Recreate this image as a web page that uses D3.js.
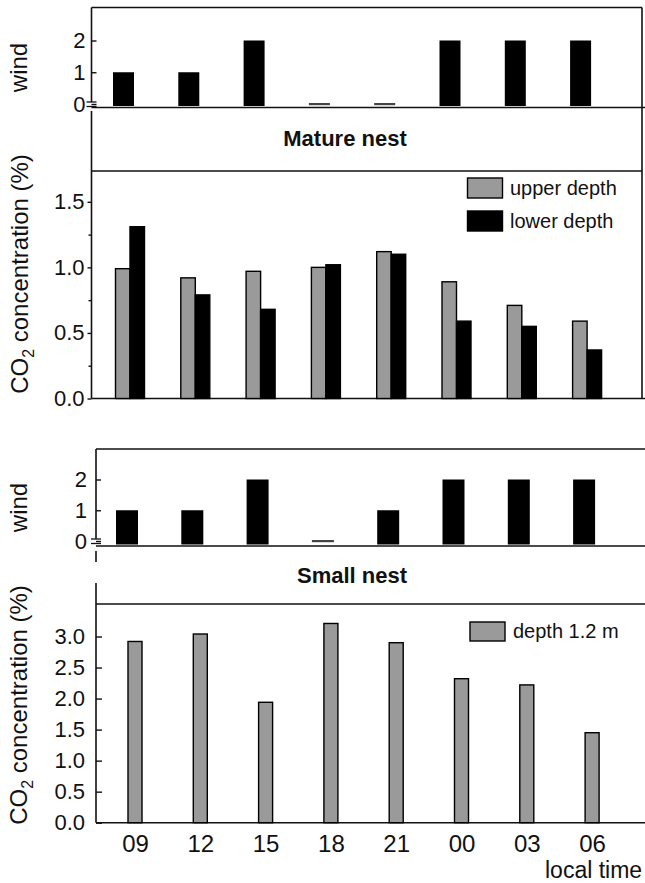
<!DOCTYPE html>
<html>
<head>
<meta charset="utf-8">
<script src="https://cdn.jsdelivr.net/npm/d3@7"></script>
<style>
body { margin: 0; background: #fff; }
svg { display: block; font-family: "Liberation Sans", Arial, sans-serif; }
</style>
</head>
<body>
<div class="container"></div>
<script>
// local time of each measurement
var times = ['09', '12', '15', '18', '21', '00', '03', '06'];

// mature nest
var matureWind = [1, 1, 2, 0, 0, 2, 2, 2];
var matureUpper = [0.99, 0.92, 0.97, 1.00, 1.12, 0.89, 0.71, 0.59];
var matureLower = [1.31, 0.79, 0.68, 1.02, 1.10, 0.59, 0.55, 0.37];

// small nest
var smallWind = [1, 1, 2, 0, 1, 2, 2, 2];
var smallDepth = [2.92, 3.04, 1.94, 3.21, 2.90, 2.32, 2.22, 1.45];

var windTicks = [0, 1, 2];
var matureTicks = [0, 0.5, 1.0, 1.5];
var matureMinor = [0.25, 0.75, 1.25];
var smallTicks = [0, 0.5, 1.0, 1.5, 2.0, 2.5, 3.0];

const WIDTH = 645;
const HEIGHT = 883;
const STEP = 65.3;
const INK = '#111';
const GREY = '#9a9a9a';

var svg = d3.select('.container').append('svg')
    .attr('width', WIDTH)
    .attr('height', HEIGHT);

var line = function (x1, y1, x2, y2, w) {
    svg.append('line')
        .attr('x1', x1).attr('y1', y1).attr('x2', x2).attr('y2', y2)
        .attr('stroke', INK).attr('stroke-width', w || 1.6);
};

var xScaleFor = first => d3.scalePoint()
    .domain(times)
    .range([first, first + STEP * (times.length - 1)]);

var rows = (vals) => vals.map((v, i) => ({ t: times[i], v: v }));

var styleAxis = function (g, size) {
    g.select('.domain').remove();
    g.selectAll('line').attr('stroke', INK).attr('stroke-width', 1.4);
    g.selectAll('text')
        .attr('fill', INK)
        .style('font-size', size + 'px')
        .style('font-family', '"Liberation Sans", Arial, sans-serif');
};

var yTitle = function (x, y, isCO2) {
    let t = svg.append('text')
        .attr('transform', `translate(${x}, ${y}) rotate(-90)`)
        .attr('text-anchor', 'middle')
        .attr('fill', INK)
        .style('font-size', '24px');
    if (!isCO2) {
        t.text('wind');
        return;
    }
    t.append('tspan').text('CO');
    t.append('tspan').attr('dy', 6).style('font-size', '16px').text('2');
    t.append('tspan').attr('dy', -6).text(' concentration (%)');
};

// wind panel: frame top, broken left axis, bars, zero markers
var windPanel = function (c, values) {
    let x = xScaleFor(c.first);
    let y = d3.scaleLinear().domain([0, 2]).range([c.zero, c.two]);

    line(c.left, c.top, c.right, c.top);
    line(c.left, c.top, c.left, y(0) - 2);
    line(c.left, c.base, WIDTH, c.base);
    // axis break
    line(c.left - 5, y(0) - 2, c.left + 5, y(0) - 2, 1.3);
    line(c.left - 5, y(0) + 2.5, c.left + 5, y(0) + 2.5, 1.3);

    let g = svg.append('g')
        .attr('transform', `translate(${c.left}, 0)`)
        .call(d3.axisLeft(y).tickValues(windTicks).tickFormat(d3.format('d'))
            .tickSize(-5).tickPadding(c.pad));
    styleAxis(g, 22);

    svg.append('g').selectAll('rect')
        .data(rows(values))
        .enter().append('rect')
        .attr('x', d => x(d.t) + c.shift - c.barW / 2)
        .attr('width', c.barW)
        .attr('y', d => d.v > 0 ? y(d.v) : y(0) - 1)
        .attr('height', d => d.v > 0 ? c.base - 1.5 - y(d.v) : 2.2)
        .attr('fill', d => d.v > 0 ? '#000' : '#444');

    yTitle(c.titleX, (c.top + c.base) / 2 + 10, false);
};

// ---------- mature nest ----------
var M = { left: 91.5, right: 642, first: 130, top: 7.5, zero: 104, two: 40.5, base: 107.5,
          pad: 6, shift: -6.5, barW: 21, titleX: 27 };
windPanel(M, matureWind);

svg.append('text')
    .attr('x', 345).attr('y', 146)
    .attr('text-anchor', 'middle')
    .attr('fill', INK)
    .style('font-size', '22px').style('font-weight', 'bold')
    .text('Mature nest');

var mTop = 171, mBase = 398.5;
line(M.left, 111, M.left, mBase);
line(M.left, mTop, M.right, mTop);
line(M.right, M.top, M.right, mBase);
line(M.left, mBase, WIDTH, mBase);

var xM = xScaleFor(M.first);
var yM = d3.scaleLinear().domain([0, 1.5]).range([mBase, 201.8]);
var sub = d3.scaleBand().domain(['upper', 'lower']).range([-14.5, 14.5]);

let gM = svg.append('g')
    .attr('transform', `translate(${M.left}, 0)`)
    .call(d3.axisLeft(yM).tickValues(matureTicks).tickFormat(d3.format('.1f')).tickSize(4).tickPadding(3));
styleAxis(gM, 22);
let gMm = svg.append('g')
    .attr('transform', `translate(${M.left}, 0)`)
    .call(d3.axisLeft(yM).tickValues(matureMinor).tickFormat('').tickSize(3));
styleAxis(gMm, 22);

var matureRows = times.map((t, i) => ({ t: t, upper: matureUpper[i], lower: matureLower[i] }));
svg.append('g').selectAll('g')
    .data(matureRows)
    .enter().append('g')
    .attr('transform', d => `translate(${xM(d.t)}, 0)`)
    .selectAll('rect')
    .data(d => ['upper', 'lower'].map(k => ({ k: k, v: d[k] })))
    .enter().append('rect')
    .attr('x', d => sub(d.k))
    .attr('width', sub.bandwidth())
    .attr('y', d => yM(d.v))
    .attr('height', d => mBase - yM(d.v))
    .attr('fill', d => d.k === 'upper' ? GREY : '#000')
    .attr('stroke', '#000')
    .attr('stroke-width', 1.4);

yTitle(28, 274, true);

// legend
var legM = [{ label: 'upper depth', fill: GREY }, { label: 'lower depth', fill: '#000' }];
legM.forEach((d, i) => {
    svg.append('rect')
        .attr('x', 467.5).attr('y', 178 + i * 33)
        .attr('width', 35).attr('height', 20)
        .attr('fill', d.fill).attr('stroke', '#000').attr('stroke-width', 1.4);
    svg.append('text')
        .attr('x', 510).attr('y', 195 + i * 33)
        .attr('fill', INK)
        .style('font-size', '20px')
        .text(d.label);
});

// ---------- small nest ----------
var S = { left: 96, right: WIDTH, first: 135, top: 449, zero: 541, two: 479.5, base: 546,
          pad: 9, shift: -8, barW: 22, titleX: 27 };
windPanel(S, smallWind);

svg.append('text')
    .attr('x', 352).attr('y', 583)
    .attr('text-anchor', 'middle')
    .attr('fill', INK)
    .style('font-size', '22px').style('font-weight', 'bold')
    .text('Small nest');

var sTop = 604, sBase = 822.7;
line(S.left, 551, S.left, 562);
line(S.left, 583, S.left, sBase);
line(S.left, sTop, WIDTH, sTop);
line(S.left, sBase, WIDTH, sBase);

var xS = xScaleFor(S.first);
var yS = d3.scaleLinear().domain([0, 3]).range([sBase, 636.5]);

let gS = svg.append('g')
    .attr('transform', `translate(${S.left}, 0)`)
    .call(d3.axisLeft(yS).tickValues(smallTicks).tickFormat(d3.format('.1f')).tickSize(-6).tickPadding(11));
styleAxis(gS, 22);

let gX = svg.append('g')
    .attr('transform', `translate(0, ${sBase})`)
    .call(d3.axisBottom(xS).tickSize(0).tickPadding(12));
styleAxis(gX, 24);

svg.append('g').selectAll('rect')
    .data(rows(smallDepth))
    .enter().append('rect')
    .attr('x', d => xS(d.t) - 7)
    .attr('width', 14)
    .attr('y', d => yS(d.v))
    .attr('height', d => sBase - yS(d.v))
    .attr('fill', GREY)
    .attr('stroke', '#000')
    .attr('stroke-width', 1.4);

yTitle(27, 705, true);

svg.append('rect')
    .attr('x', 470).attr('y', 622)
    .attr('width', 35).attr('height', 19)
    .attr('fill', GREY).attr('stroke', '#000').attr('stroke-width', 1.4);
svg.append('text')
    .attr('x', 513).attr('y', 638)
    .attr('fill', INK)
    .style('font-size', '20px')
    .text('depth 1.2 m');

svg.append('text')
    .attr('x', 545).attr('y', 878)
    .attr('fill', INK)
    .style('font-size', '23px')
    .text('local time');
</script>
</body>
</html>
